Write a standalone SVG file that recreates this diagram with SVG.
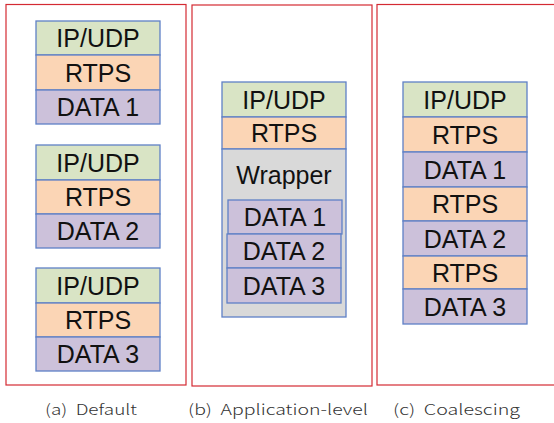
<svg xmlns="http://www.w3.org/2000/svg" width="554" height="423" viewBox="0 0 554 423">
<style>
.panel{fill:#fff;stroke:#d42a33;stroke-width:1.2}
.b{stroke:#5f80c6;stroke-width:1.3}
.ip{fill:#d9e4c5}
.rt{fill:#fbd5b5}
.dt{fill:#ccc1da}
.wr{fill:#d9d9d9}
.t{font-family:"Liberation Sans",Arial,sans-serif;font-size:25px;fill:#111;text-anchor:middle}
.cap{font-family:"Noto Sans CJK KR","DejaVu Sans",sans-serif;font-size:15px;font-weight:300;fill:#333;white-space:pre}
</style>
<rect width="554" height="423" fill="#fff"/>
<g id="panel-a">
<rect class="panel" x="6" y="4.5" width="180" height="380.5"/>
<g id="a-stack1">
<rect class="b ip" x="36" y="21" width="124" height="34"/><text class="t" x="98" y="47">IP/UDP</text>
<rect class="b rt" x="36" y="55" width="124" height="35"/><text class="t" x="98" y="81.5">RTPS</text>
<rect class="b dt" x="36" y="90" width="124" height="34"/><text class="t" x="98" y="116">DATA 1</text>
</g>
<g id="a-stack2">
<rect class="b ip" x="36" y="145" width="124" height="35"/><text class="t" x="98" y="171.5">IP/UDP</text>
<rect class="b rt" x="36" y="180" width="124" height="34"/><text class="t" x="98" y="206">RTPS</text>
<rect class="b dt" x="36" y="214" width="124" height="34"/><text class="t" x="98" y="240">DATA 2</text>
</g>
<g id="a-stack3">
<rect class="b ip" x="36" y="268" width="124" height="35"/><text class="t" x="98" y="294.5">IP/UDP</text>
<rect class="b rt" x="36" y="303" width="124" height="34"/><text class="t" x="98" y="329">RTPS</text>
<rect class="b dt" x="36" y="337" width="124" height="34"/><text class="t" x="98" y="363">DATA 3</text>
</g>
<text class="cap" x="45" y="415" textLength="92" lengthAdjust="spacingAndGlyphs" xml:space="preserve">(a)  Default</text>
</g>
<g id="panel-b">
<rect class="panel" x="192" y="5" width="180" height="381"/>
<g id="b-stack">
<rect class="b ip" x="222" y="82" width="124" height="35"/><text class="t" x="284" y="108.5">IP/UDP</text>
<rect class="b rt" x="222" y="117" width="124" height="32"/><text class="t" x="284" y="142">RTPS</text>
<rect class="b wr" x="222" y="149" width="124" height="168"/><text class="t" x="284" y="184">Wrapper</text>
<rect class="b dt" x="228" y="200" width="114" height="34"/><text class="t" x="285" y="226">DATA 1</text>
<rect class="b dt" x="227" y="234" width="114" height="34"/><text class="t" x="284" y="260">DATA 2</text>
<rect class="b dt" x="227" y="268" width="114" height="35"/><text class="t" x="284" y="294.5">DATA 3</text>
</g>
<text class="cap" x="188" y="415" textLength="180" lengthAdjust="spacingAndGlyphs" xml:space="preserve">(b)  Application-level</text>
</g>
<g id="panel-c">
<rect class="panel" x="377" y="4.5" width="190" height="380.5"/>
<g id="c-stack">
<rect class="b ip" x="403" y="82" width="124" height="35"/><text class="t" x="465" y="108.5">IP/UDP</text>
<rect class="b rt" x="403" y="117" width="124" height="35"/><text class="t" x="465" y="143.5">RTPS</text>
<rect class="b dt" x="403" y="152" width="124" height="35"/><text class="t" x="465" y="178.5">DATA 1</text>
<rect class="b rt" x="403" y="187" width="124" height="34"/><text class="t" x="465" y="213">RTPS</text>
<rect class="b dt" x="403" y="221" width="124" height="35"/><text class="t" x="465" y="247.5">DATA 2</text>
<rect class="b rt" x="403" y="256" width="124" height="33"/><text class="t" x="465" y="281.5">RTPS</text>
<rect class="b dt" x="403" y="289" width="124" height="35"/><text class="t" x="465" y="315.5">DATA 3</text>
</g>
<text class="cap" x="393" y="415" textLength="127" lengthAdjust="spacingAndGlyphs" xml:space="preserve">(c)  Coalescing</text>
</g>
</svg>
